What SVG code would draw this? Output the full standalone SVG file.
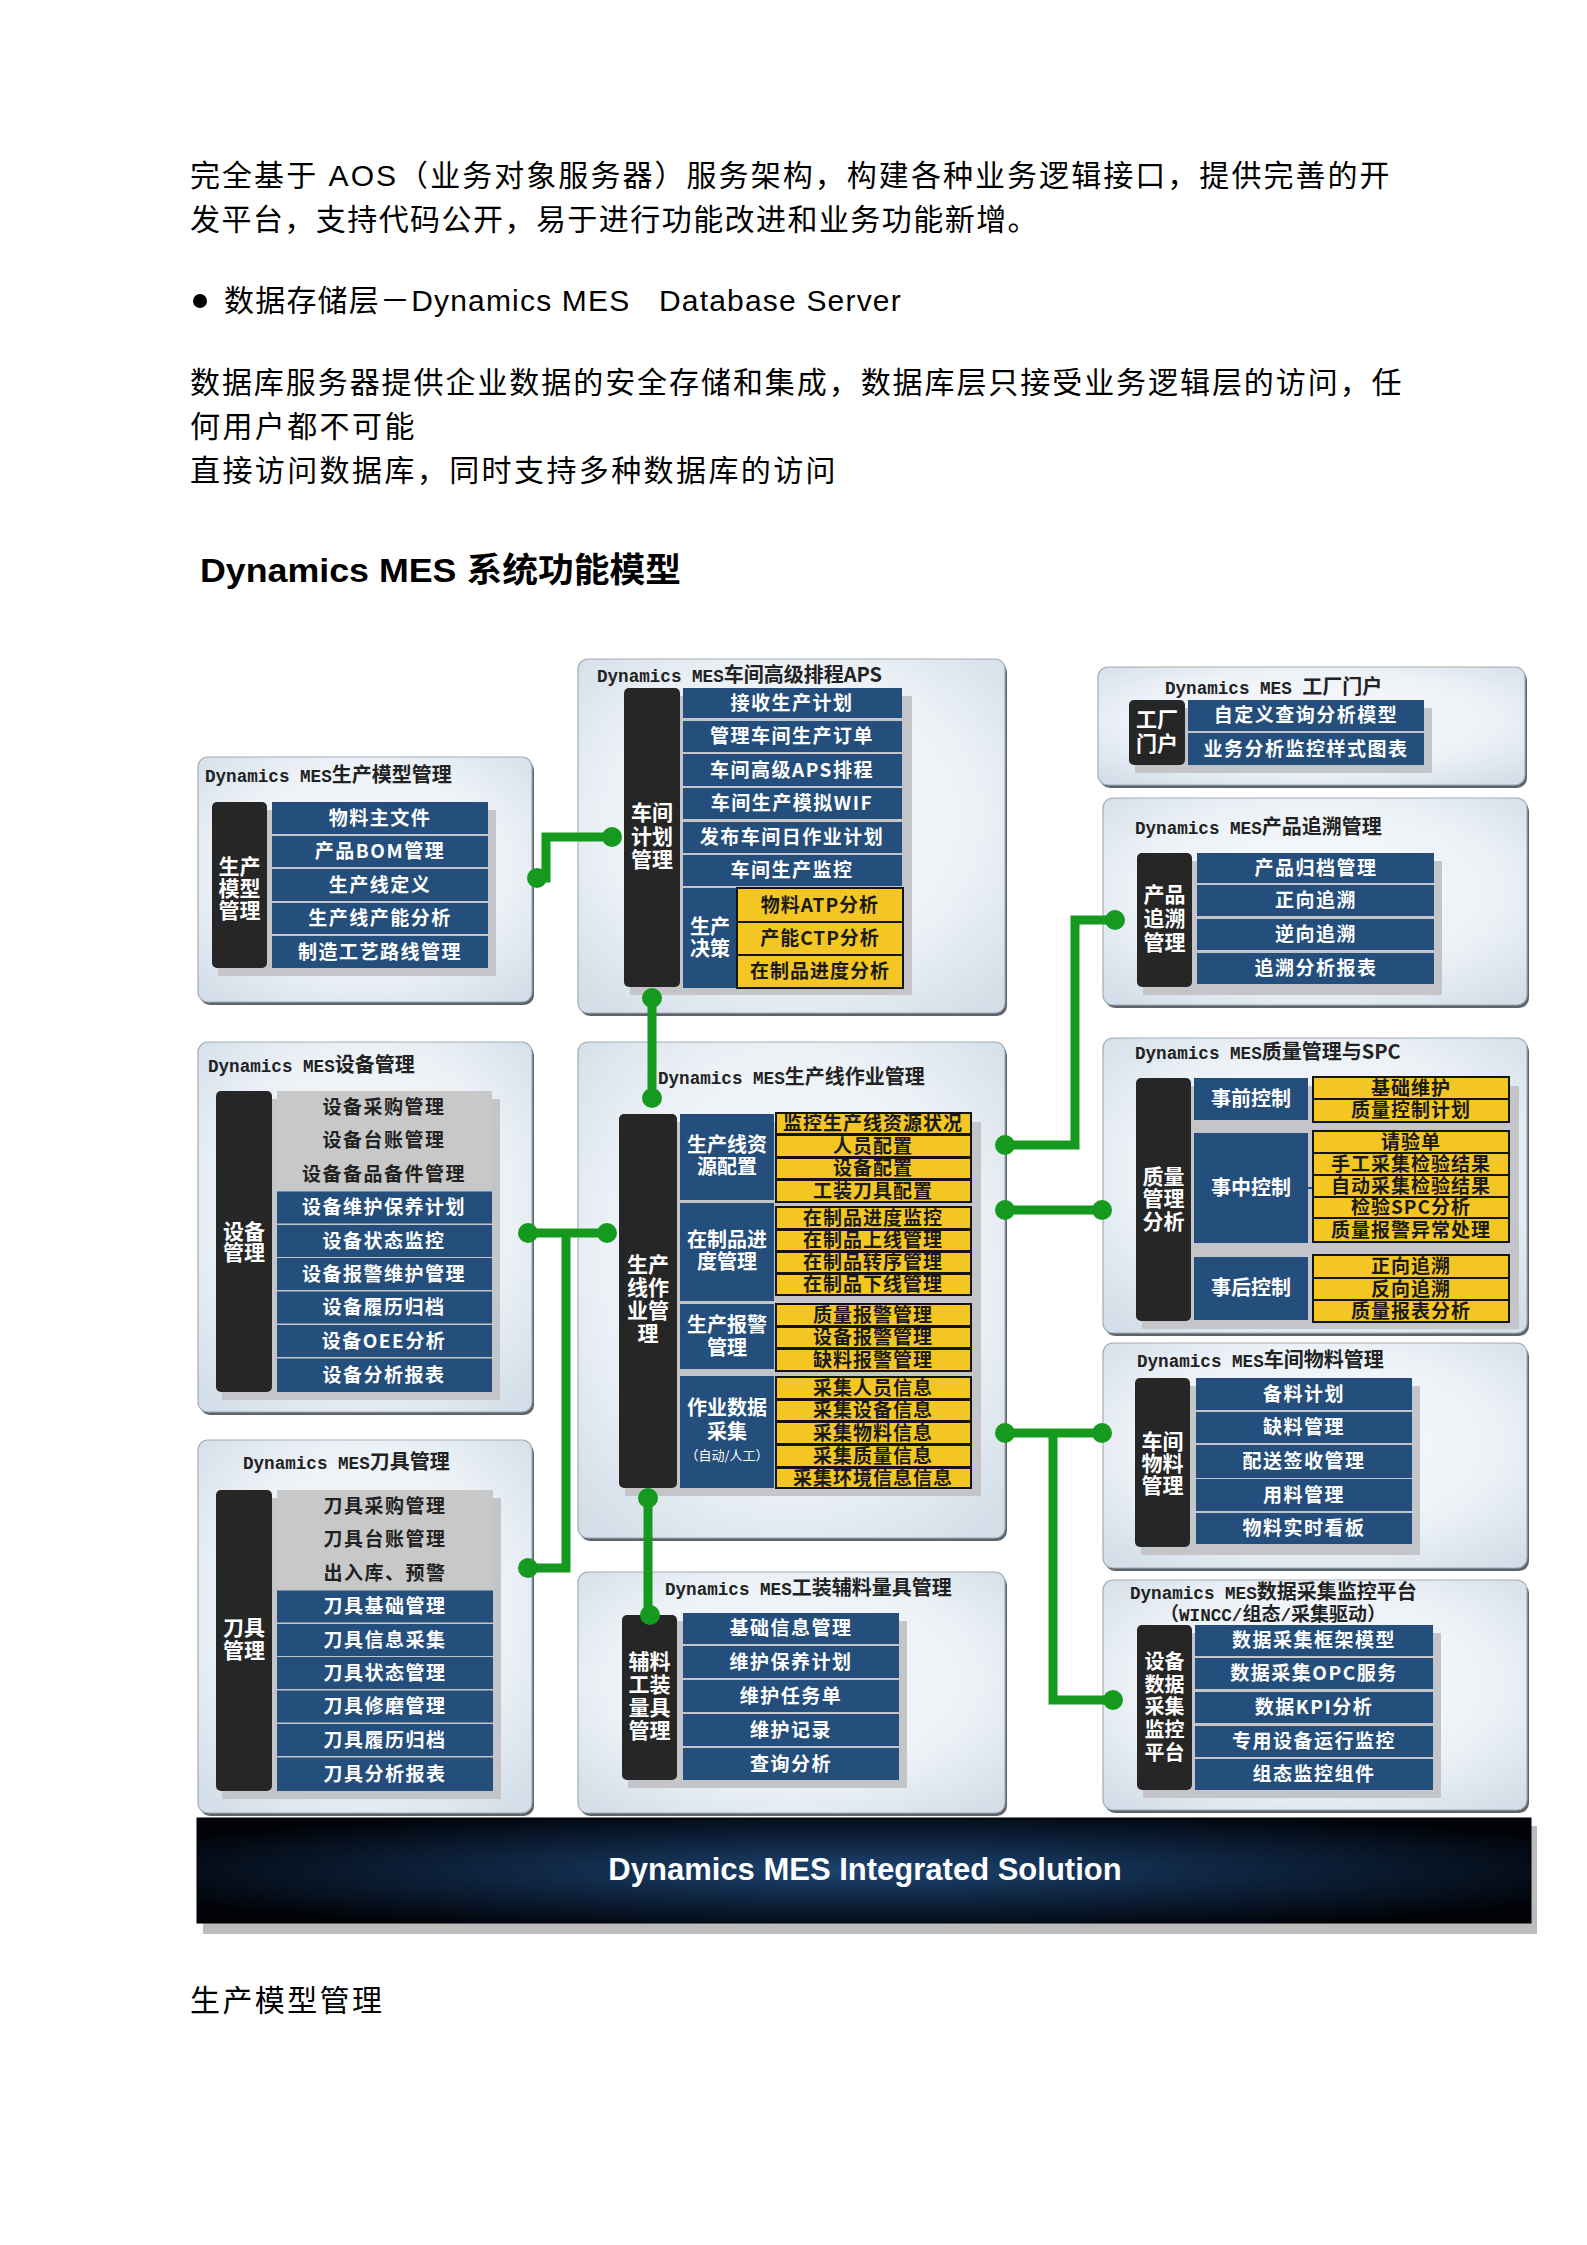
<svg xmlns="http://www.w3.org/2000/svg" width="1587" height="2245" viewBox="0 0 1587 2245">
<defs>
<radialGradient id="pg" cx="50%" cy="45%" r="70%">
<stop offset="0" stop-color="#f9fbfd"/>
<stop offset="0.6" stop-color="#edf2f7"/>
<stop offset="1" stop-color="#d3dee8"/>
</radialGradient>
<radialGradient id="bg" cx="50%" cy="50%" r="60%">
<stop offset="0" stop-color="#1d4470"/>
<stop offset="0.55" stop-color="#0c1f38"/>
<stop offset="1" stop-color="#010308"/>
</radialGradient>
<style>
.body{font-family:"Liberation Sans","Noto Sans CJK SC",sans-serif;font-size:30px;fill:#000;letter-spacing:2.4px}
.h{font-family:"Liberation Sans","Noto Sans CJK SC",sans-serif;font-size:34px;font-weight:bold;fill:#000}
.panel{fill:url(#pg);stroke:#a3acb6;stroke-width:1.2}
.pshadow{fill:#5d636a}
.sh{fill:#c3c5c8}
.side{fill:#262626}
.blue{fill:#244e7b}
.grey{fill:#c8c8c8}
.yel{fill:#f4c623;stroke:#141414;stroke-width:2}
.ttl{font-family:"Noto Sans CJK SC",sans-serif;font-size:20px;font-weight:bold;fill:#222}
.lat{font-family:"Liberation Mono",monospace;font-size:17.6px}
.st{font-family:"Noto Sans CJK SC",sans-serif;font-size:21px;font-weight:bold;fill:#fff;text-anchor:middle}
.bt{font-family:"Noto Sans CJK SC",sans-serif;font-size:19px;font-weight:bold;fill:#fff;text-anchor:middle;letter-spacing:1.5px}
.gt{font-family:"Noto Sans CJK SC",sans-serif;font-size:19px;font-weight:bold;fill:#222;text-anchor:middle;letter-spacing:1.5px}
.yt{font-family:"Noto Sans CJK SC",sans-serif;font-size:19px;font-weight:bold;fill:#1a1a1a;text-anchor:middle;letter-spacing:1px}
.lb{font-family:"Noto Sans CJK SC",sans-serif;font-size:20px;font-weight:bold;fill:#fff;text-anchor:middle}
.conn{stroke:#16991f;stroke-width:9;fill:none}
.dot{fill:#16991f}
</style>
</defs>
<rect width="1587" height="2245" fill="#fff"/>

<g id="intro">
<text class="body" x="190" y="186" textLength="1202" lengthAdjust="spacing">完全基于 AOS（业务对象服务器）服务架构，构建各种业务逻辑接口，提供完善的开</text>
<text class="body" x="190" y="230" textLength="850" lengthAdjust="spacing">发平台，支持代码公开，易于进行功能改进和业务功能新增。</text>
<circle cx="200" cy="301" r="7" fill="#000"/>
<text class="body" x="224" y="311" textLength="677" lengthAdjust="spacing" style="white-space:pre;letter-spacing:0.3px">数据存储层－Dynamics MES   Database Server</text>
<text class="body" x="190" y="393" textLength="1214" lengthAdjust="spacing">数据库服务器提供企业数据的安全存储和集成，数据库层只接受业务逻辑层的访问，任</text>
<text class="body" x="190" y="437">何用户都不可能</text>
<text class="body" x="190" y="481">直接访问数据库，同时支持多种数据库的访问</text>
<text class="h" x="200" y="582" textLength="481" lengthAdjust="spacingAndGlyphs">Dynamics MES 系统功能模型</text>
</g>

<!-- Production model -->
<g id="model">
<rect class="pshadow" x="200" y="760" width="334" height="245" rx="10"/>
<rect class="panel" x="198" y="757" width="334" height="245" rx="10"/>
<text class="ttl" x="205" y="782"><tspan class="lat">Dynamics MES</tspan>生产模型管理</text>
<rect class="sh" x="218" y="810" width="278" height="166"/>
<rect class="side" x="212" y="802" width="55" height="166" rx="5"/>
<text class="st"><tspan x="239.5" y="874">生产</tspan><tspan x="239.5" y="896">模型</tspan><tspan x="239.5" y="918">管理</tspan></text>
<rect class="blue" x="272" y="802" width="216" height="32"/>
<rect class="blue" x="272" y="836" width="216" height="31"/>
<rect class="blue" x="272" y="869" width="216" height="32"/>
<rect class="blue" x="272" y="903" width="216" height="31"/>
<rect class="blue" x="272" y="936" width="216" height="32"/>
<text class="bt" x="380" y="824.5">物料主文件</text>
<text class="bt" x="380" y="858">产品BOM管理</text>
<text class="bt" x="380" y="891.5">生产线定义</text>
<text class="bt" x="380" y="925">生产线产能分析</text>
<text class="bt" x="380" y="958.5">制造工艺路线管理</text>
</g>

<!-- APS -->
<g id="aps">
<rect class="pshadow" x="580" y="662" width="427" height="354" rx="10"/>
<rect class="panel" x="578" y="659" width="427" height="354" rx="10"/>
<text class="ttl" x="597" y="682"><tspan class="lat">Dynamics MES</tspan>车间高级排程APS</text>
<rect class="sh" x="630" y="696" width="282" height="299"/>
<rect class="side" x="624" y="688" width="56" height="299" rx="5"/>
<text class="st"><tspan x="652" y="820">车间</tspan><tspan x="652" y="844">计划</tspan><tspan x="652" y="867">管理</tspan></text>
<rect class="blue" x="683" y="688" width="219" height="30"/>
<rect class="blue" x="683" y="721" width="219" height="31"/>
<rect class="blue" x="683" y="754" width="219" height="32"/>
<rect class="blue" x="683" y="788" width="219" height="31"/>
<rect class="blue" x="683" y="822" width="219" height="31"/>
<rect class="blue" x="683" y="855" width="219" height="31"/>
<text class="bt" x="792" y="709.5">接收生产计划</text>
<text class="bt" x="792" y="743">管理车间生产订单</text>
<text class="bt" x="792" y="776.5">车间高级APS排程</text>
<text class="bt" x="792" y="810">车间生产模拟WIF</text>
<text class="bt" x="792" y="844">发布车间日作业计划</text>
<text class="bt" x="792" y="877">车间生产监控</text>
<rect class="blue" x="683" y="888" width="54" height="100"/>
<text class="lb"><tspan x="710" y="934">生产</tspan><tspan x="710" y="956">决策</tspan></text>
<rect class="yel" x="737" y="888" width="166" height="34"/>
<rect class="yel" x="737" y="922" width="166" height="33"/>
<rect class="yel" x="737" y="955" width="166" height="33"/>
<text class="yt"><tspan x="820" y="911.5">物料ATP分析</tspan><tspan x="820" y="945">产能CTP分析</tspan><tspan x="820" y="978">在制品进度分析</tspan></text>
</g>

<!-- Factory portal -->
<g id="portal">
<rect class="pshadow" x="1100" y="670" width="427" height="118" rx="10"/>
<rect class="panel" x="1098" y="667" width="427" height="118" rx="10"/>
<text class="ttl" x="1165" y="694"><tspan class="lat">Dynamics MES </tspan>工厂门户</text>
<rect class="sh" x="1135" y="708" width="297" height="65"/>
<rect class="side" x="1129" y="700" width="56" height="65" rx="5"/>
<text class="st"><tspan x="1157" y="727">工厂</tspan><tspan x="1157" y="751">门户</tspan></text>
<rect class="blue" x="1188" y="700" width="236" height="31"/>
<rect class="blue" x="1188" y="733" width="236" height="32"/>
<text class="bt" x="1306" y="722">自定义查询分析模型</text>
<text class="bt" x="1306" y="755.5">业务分析监控样式图表</text>
</g>

<!-- Traceability -->
<g id="trace">
<rect class="pshadow" x="1105" y="801" width="424" height="207" rx="10"/>
<rect class="panel" x="1103" y="798" width="424" height="207" rx="10"/>
<text class="ttl" x="1135" y="834"><tspan class="lat">Dynamics MES</tspan>产品追溯管理</text>
<rect class="sh" x="1143" y="861" width="299" height="134"/>
<rect class="side" x="1137" y="853" width="55" height="134" rx="5"/>
<text class="st"><tspan x="1164.5" y="902">产品</tspan><tspan x="1164.5" y="926">追溯</tspan><tspan x="1164.5" y="950">管理</tspan></text>
<rect class="blue" x="1197" y="853" width="237" height="30"/>
<rect class="blue" x="1197" y="885" width="237" height="31"/>
<rect class="blue" x="1197" y="919" width="237" height="31"/>
<rect class="blue" x="1197" y="953" width="237" height="31"/>
<text class="bt" x="1316" y="874.5">产品归档管理</text>
<text class="bt" x="1316" y="907">正向追溯</text>
<text class="bt" x="1316" y="941">逆向追溯</text>
<text class="bt" x="1316" y="975">追溯分析报表</text>
</g>

<!-- Equipment -->
<g id="equipment">
<rect class="pshadow" x="200" y="1045" width="334" height="370" rx="10"/>
<rect class="panel" x="198" y="1042" width="334" height="370" rx="10"/>
<text class="ttl" x="208" y="1072"><tspan class="lat">Dynamics MES</tspan>设备管理</text>
<rect class="sh" x="222" y="1099" width="278" height="301"/>
<rect class="side" x="216" y="1091" width="56" height="301" rx="5"/>
<text class="st"><tspan x="244" y="1239">设备</tspan><tspan x="244" y="1260">管理</tspan></text>
<rect class="grey" x="277" y="1091" width="215" height="32"/>
<rect class="grey" x="277" y="1124.5" width="215" height="32"/>
<rect class="grey" x="277" y="1158" width="215" height="32"/>
<rect class="blue" x="277" y="1191.5" width="215" height="32"/>
<rect class="blue" x="277" y="1225" width="215" height="32"/>
<rect class="blue" x="277" y="1258" width="215" height="32"/>
<rect class="blue" x="277" y="1291.5" width="215" height="32"/>
<rect class="blue" x="277" y="1325" width="215" height="32"/>
<rect class="blue" x="277" y="1358.5" width="215" height="33.5"/>
<text class="gt" x="384" y="1113.5">设备采购管理</text>
<text class="gt" x="384" y="1147">设备台账管理</text>
<text class="gt" x="384" y="1180.5">设备备品备件管理</text>
<text class="bt" x="384" y="1214">设备维护保养计划</text>
<text class="bt" x="384" y="1247.5">设备状态监控</text>
<text class="bt" x="384" y="1280.5">设备报警维护管理</text>
<text class="bt" x="384" y="1314">设备履历归档</text>
<text class="bt" x="384" y="1347.5">设备OEE分析</text>
<text class="bt" x="384" y="1381.5">设备分析报表</text>
</g>

<!-- Tools -->
<g id="tools">
<rect class="pshadow" x="200" y="1443" width="334" height="373" rx="10"/>
<rect class="panel" x="198" y="1440" width="334" height="373" rx="10"/>
<text class="ttl" x="243" y="1469"><tspan class="lat">Dynamics MES</tspan>刀具管理</text>
<rect class="sh" x="222" y="1498" width="279" height="301"/>
<rect class="side" x="216" y="1490" width="56" height="301" rx="5"/>
<text class="st"><tspan x="244" y="1635">刀具</tspan><tspan x="244" y="1658">管理</tspan></text>
<rect class="grey" x="277" y="1490" width="216" height="32"/>
<rect class="grey" x="277" y="1523.5" width="216" height="32"/>
<rect class="grey" x="277" y="1557" width="216" height="32"/>
<rect class="blue" x="277" y="1590.5" width="216" height="32"/>
<rect class="blue" x="277" y="1624" width="216" height="32"/>
<rect class="blue" x="277" y="1657" width="216" height="32"/>
<rect class="blue" x="277" y="1690.5" width="216" height="32"/>
<rect class="blue" x="277" y="1724" width="216" height="32"/>
<rect class="blue" x="277" y="1757.5" width="216" height="33.5"/>
<text class="gt" x="385" y="1512.5">刀具采购管理</text>
<text class="gt" x="385" y="1546">刀具台账管理</text>
<text class="gt" x="385" y="1579.5">出入库、预警</text>
<text class="bt" x="385" y="1613">刀具基础管理</text>
<text class="bt" x="385" y="1646.5">刀具信息采集</text>
<text class="bt" x="385" y="1679.5">刀具状态管理</text>
<text class="bt" x="385" y="1713">刀具修磨管理</text>
<text class="bt" x="385" y="1746.5">刀具履历归档</text>
<text class="bt" x="385" y="1780.5">刀具分析报表</text>
</g>

<!-- Production line operations -->
<g id="lineops">
<rect class="pshadow" x="580" y="1045" width="427" height="496" rx="10"/>
<rect class="panel" x="578" y="1042" width="427" height="496" rx="10"/>
<text class="ttl" x="658" y="1084"><tspan class="lat">Dynamics MES</tspan>生产线作业管理</text>
<rect class="sh" x="625" y="1122" width="356" height="374"/>
<rect class="side" x="619" y="1114" width="58" height="374" rx="5"/>
<text class="st"><tspan x="648" y="1272">生产</tspan><tspan x="648" y="1295">线作</tspan><tspan x="648" y="1318">业管</tspan><tspan x="648" y="1341">理</tspan></text>
<rect class="blue" x="680" y="1114" width="94" height="86"/>
<rect class="blue" x="680" y="1203" width="94" height="98"/>
<rect class="blue" x="680" y="1304" width="94" height="65"/>
<rect class="blue" x="680" y="1376" width="94" height="112"/>
<text class="lb"><tspan x="727" y="1152">生产线资</tspan><tspan x="727" y="1174">源配置</tspan></text>
<text class="lb"><tspan x="727" y="1247">在制品进</tspan><tspan x="727" y="1269">度管理</tspan></text>
<text class="lb"><tspan x="727" y="1332">生产报警</tspan><tspan x="727" y="1355">管理</tspan></text>
<text class="lb"><tspan x="727" y="1415">作业数据</tspan><tspan x="727" y="1439">采集</tspan><tspan x="727" y="1460" style="font-size:13px;font-weight:normal">（自动/人工）</tspan></text>
<rect class="yel" x="776" y="1113" width="195" height="21"/>
<rect class="yel" x="776" y="1135" width="195" height="22"/>
<rect class="yel" x="776" y="1158" width="195" height="21"/>
<rect class="yel" x="776" y="1180" width="195" height="22"/>
<rect class="yel" x="776" y="1207" width="195" height="22"/>
<rect class="yel" x="776" y="1230" width="195" height="21"/>
<rect class="yel" x="776" y="1252" width="195" height="21"/>
<rect class="yel" x="776" y="1274" width="195" height="21"/>
<rect class="yel" x="776" y="1304" width="195" height="22"/>
<rect class="yel" x="776" y="1327" width="195" height="21"/>
<rect class="yel" x="776" y="1349" width="195" height="22"/>
<rect class="yel" x="776" y="1377" width="195" height="22"/>
<rect class="yel" x="776" y="1400" width="195" height="21"/>
<rect class="yel" x="776" y="1422" width="195" height="22"/>
<rect class="yel" x="776" y="1445" width="195" height="22"/>
<rect class="yel" x="776" y="1468" width="195" height="20"/>
<text class="yt"><tspan x="873" y="1130">监控生产线资源状况</tspan><tspan x="873" y="1152.5">人员配置</tspan><tspan x="873" y="1175">设备配置</tspan><tspan x="873" y="1197.5">工装刀具配置</tspan></text>
<text class="yt"><tspan x="873" y="1224.5">在制品进度监控</tspan><tspan x="873" y="1247">在制品上线管理</tspan><tspan x="873" y="1269">在制品转序管理</tspan><tspan x="873" y="1291">在制品下线管理</tspan></text>
<text class="yt"><tspan x="873" y="1321.5">质量报警管理</tspan><tspan x="873" y="1344">设备报警管理</tspan><tspan x="873" y="1366.5">缺料报警管理</tspan></text>
<text class="yt"><tspan x="873" y="1394.5">采集人员信息</tspan><tspan x="873" y="1417">采集设备信息</tspan><tspan x="873" y="1439.5">采集物料信息</tspan><tspan x="873" y="1462.5">采集质量信息</tspan><tspan x="873" y="1484.5">采集环境信息信息</tspan></text>
</g>

<!-- Quality -->
<g id="quality">
<rect class="pshadow" x="1105" y="1041" width="424" height="295" rx="10"/>
<rect class="panel" x="1103" y="1038" width="424" height="295" rx="10"/>
<text class="ttl" x="1135" y="1059"><tspan class="lat">Dynamics MES</tspan>质量管理与SPC</text>
<rect class="sh" x="1142" y="1086" width="377" height="243"/>
<rect class="side" x="1136" y="1078" width="55" height="243" rx="5"/>
<text class="st"><tspan x="1163.5" y="1184">质量</tspan><tspan x="1163.5" y="1206">管理</tspan><tspan x="1163.5" y="1229">分析</tspan></text>
<rect class="blue" x="1194" y="1078" width="114" height="42"/>
<rect class="blue" x="1194" y="1133" width="114" height="110"/>
<rect class="blue" x="1194" y="1257" width="114" height="63"/>
<text class="lb" x="1251" y="1106">事前控制</text>
<text class="lb" x="1251" y="1195">事中控制</text>
<text class="lb" x="1251" y="1295">事后控制</text>
<line x1="1308" y1="1188" x2="1313" y2="1188" stroke="#244e7b" stroke-width="2"/>
<rect class="yel" x="1313" y="1077" width="196" height="22"/>
<rect class="yel" x="1313" y="1099" width="196" height="23"/>
<rect class="yel" x="1313" y="1131" width="196" height="22"/>
<rect class="yel" x="1313" y="1153" width="196" height="22"/>
<rect class="yel" x="1313" y="1175" width="196" height="22"/>
<rect class="yel" x="1313" y="1197" width="196" height="21"/>
<rect class="yel" x="1313" y="1218" width="196" height="24"/>
<rect class="yel" x="1313" y="1255" width="196" height="23"/>
<rect class="yel" x="1313" y="1278" width="196" height="22"/>
<rect class="yel" x="1313" y="1300" width="196" height="22"/>
<text class="yt"><tspan x="1411" y="1094.5">基础维护</tspan><tspan x="1411" y="1117">质量控制计划</tspan></text>
<text class="yt"><tspan x="1411" y="1148.5">请验单</tspan><tspan x="1411" y="1170.5">手工采集检验结果</tspan><tspan x="1411" y="1192.5">自动采集检验结果</tspan><tspan x="1411" y="1214">检验SPC分析</tspan><tspan x="1411" y="1236.5">质量报警异常处理</tspan></text>
<text class="yt"><tspan x="1411" y="1273">正向追溯</tspan><tspan x="1411" y="1295.5">反向追溯</tspan><tspan x="1411" y="1317.5">质量报表分析</tspan></text>
</g>

<!-- Material -->
<g id="material">
<rect class="pshadow" x="1105" y="1346" width="424" height="225" rx="10"/>
<rect class="panel" x="1103" y="1343" width="424" height="225" rx="10"/>
<text class="ttl" x="1137" y="1367"><tspan class="lat">Dynamics MES</tspan>车间物料管理</text>
<rect class="sh" x="1141" y="1386" width="279" height="169"/>
<rect class="side" x="1135" y="1378" width="55" height="169" rx="5"/>
<text class="st"><tspan x="1162.5" y="1449">车间</tspan><tspan x="1162.5" y="1471">物料</tspan><tspan x="1162.5" y="1493">管理</tspan></text>
<rect class="blue" x="1196" y="1378" width="216" height="32"/>
<rect class="blue" x="1196" y="1412" width="216" height="31"/>
<rect class="blue" x="1196" y="1445" width="216" height="33"/>
<rect class="blue" x="1196" y="1479" width="216" height="32"/>
<rect class="blue" x="1196" y="1513" width="216" height="31"/>
<text class="bt" x="1304" y="1400.5">备料计划</text>
<text class="bt" x="1304" y="1434">缺料管理</text>
<text class="bt" x="1304" y="1468">配送签收管理</text>
<text class="bt" x="1304" y="1501.5">用料管理</text>
<text class="bt" x="1304" y="1535">物料实时看板</text>
</g>

<!-- Tooling / auxiliary -->
<g id="tooling">
<rect class="pshadow" x="580" y="1575" width="427" height="241" rx="10"/>
<rect class="panel" x="578" y="1572" width="427" height="241" rx="10"/>
<text class="ttl" x="665" y="1595"><tspan class="lat">Dynamics MES</tspan>工装辅料量具管理</text>
<rect class="sh" x="628" y="1621" width="279" height="167"/>
<rect class="side" x="622" y="1615" width="55" height="165" rx="5"/>
<text class="st"><tspan x="649.5" y="1669">辅料</tspan><tspan x="649.5" y="1692">工装</tspan><tspan x="649.5" y="1715">量具</tspan><tspan x="649.5" y="1738">管理</tspan></text>
<rect class="blue" x="683" y="1613" width="216" height="31"/>
<rect class="blue" x="683" y="1646" width="216" height="32"/>
<rect class="blue" x="683" y="1680" width="216" height="32"/>
<rect class="blue" x="683" y="1714" width="216" height="32"/>
<rect class="blue" x="683" y="1748" width="216" height="32"/>
<text class="bt" x="791" y="1635">基础信息管理</text>
<text class="bt" x="791" y="1668.5">维护保养计划</text>
<text class="bt" x="791" y="1702.5">维护任务单</text>
<text class="bt" x="791" y="1736.5">维护记录</text>
<text class="bt" x="791" y="1770.5">查询分析</text>
</g>

<!-- Data collection -->
<g id="datacol">
<rect class="pshadow" x="1105" y="1583" width="424" height="230" rx="10"/>
<rect class="panel" x="1103" y="1580" width="424" height="230" rx="10"/>
<text class="ttl"><tspan x="1130" y="1599"><tspan class="lat">Dynamics MES</tspan>数据采集监控平台</tspan><tspan x="1160" y="1621" style="font-size:19px">（<tspan class="lat">WINCC/</tspan>组态<tspan class="lat">/</tspan>采集驱动）</tspan></text>
<rect class="sh" x="1143" y="1633" width="298" height="165"/>
<rect class="side" x="1137" y="1625" width="55" height="165" rx="5"/>
<text class="st" style="font-size:20px"><tspan x="1164.5" y="1669">设备</tspan><tspan x="1164.5" y="1692">数据</tspan><tspan x="1164.5" y="1714">采集</tspan><tspan x="1164.5" y="1737">监控</tspan><tspan x="1164.5" y="1760">平台</tspan></text>
<rect class="blue" x="1195" y="1625" width="238" height="31"/>
<rect class="blue" x="1195" y="1658" width="238" height="31"/>
<rect class="blue" x="1195" y="1692" width="238" height="31"/>
<rect class="blue" x="1195" y="1726" width="238" height="31"/>
<rect class="blue" x="1195" y="1759" width="238" height="31"/>
<text class="bt" x="1314" y="1647">数据采集框架模型</text>
<text class="bt" x="1314" y="1680">数据采集OPC服务</text>
<text class="bt" x="1314" y="1714">数据KPI分析</text>
<text class="bt" x="1314" y="1748">专用设备运行监控</text>
<text class="bt" x="1314" y="1781">组态监控组件</text>
</g>

<!-- Banner -->
<g id="banner">
<rect x="203" y="1826" width="1334" height="108" fill="#bcbcbc"/>
<rect x="197" y="1818" width="1334" height="105" fill="url(#bg)" stroke="#000" stroke-width="1"/>
<text x="865" y="1880" text-anchor="middle" style="font-family:'Liberation Sans',sans-serif;font-size:31px;font-weight:bold;fill:#fff">Dynamics MES Integrated Solution</text>
</g>

<!-- Connectors -->
<g id="connectors">
<path class="conn" d="M537,878 H546 V837 H612"/>
<path class="conn" d="M652,998 V1098"/>
<path class="conn" d="M528,1233 H607"/>
<path class="conn" d="M566,1233 V1568 H528"/>
<path class="conn" d="M1005,1145 H1075 V920 H1115"/>
<path class="conn" d="M1005,1210 H1102"/>
<path class="conn" d="M1005,1433 H1102"/>
<path class="conn" d="M1053,1433 V1700 H1113"/>
<path class="conn" d="M648,1498 V1615"/>
<circle class="dot" cx="537" cy="878" r="10"/>
<circle class="dot" cx="612" cy="837" r="10"/>
<circle class="dot" cx="652" cy="998" r="10"/>
<circle class="dot" cx="652" cy="1098" r="10"/>
<circle class="dot" cx="528" cy="1233" r="10"/>
<circle class="dot" cx="607" cy="1233" r="10"/>
<circle class="dot" cx="528" cy="1568" r="10"/>
<circle class="dot" cx="1005" cy="1145" r="10"/>
<circle class="dot" cx="1115" cy="920" r="10"/>
<circle class="dot" cx="1005" cy="1210" r="10"/>
<circle class="dot" cx="1102" cy="1210" r="10"/>
<circle class="dot" cx="1005" cy="1433" r="10"/>
<circle class="dot" cx="1102" cy="1433" r="10"/>
<circle class="dot" cx="1113" cy="1700" r="10"/>
<circle class="dot" cx="648" cy="1498" r="10"/>
<circle class="dot" cx="650" cy="1615" r="10"/>
</g>

<text class="body" x="190" y="2011">生产模型管理</text>
</svg>
